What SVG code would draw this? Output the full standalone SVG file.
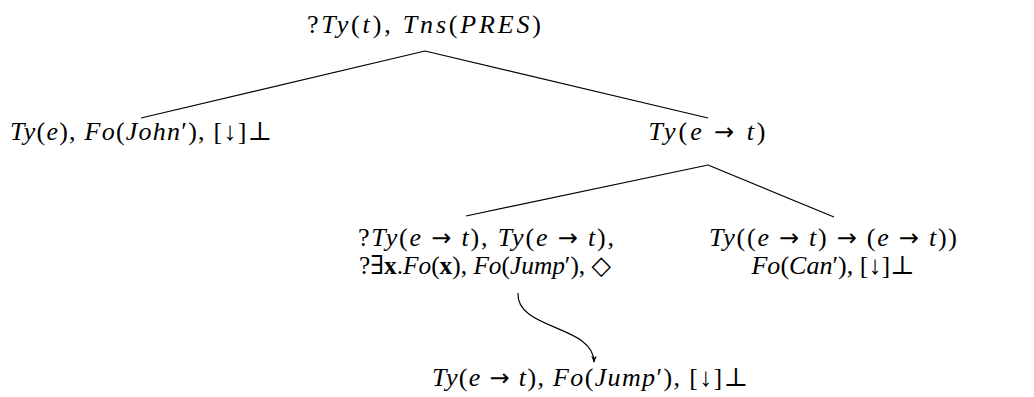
<svg xmlns="http://www.w3.org/2000/svg" width="1034" height="397" viewBox="0 0 1034 397">
<defs>
<style>
text{font-family:"Liberation Serif","DejaVu Serif",serif;font-size:26px;fill:#000;text-anchor:middle}
.i{font-style:italic}
.b{font-weight:bold}
.a{font-family:"DejaVu Sans",sans-serif;font-size:24px}
.e{stroke:#000;stroke-width:1.2;fill:none}
</style>
<marker id="ah" viewBox="0 0 10 10" refX="9" refY="5" markerWidth="7" markerHeight="7" orient="auto" markerUnits="userSpaceOnUse">
<path d="M0,1 L10,5 L0,9 L3,5 Z" fill="#000"/>
</marker>
</defs>
<rect width="1034" height="397" fill="#fff"/>
<g id="connectors">
<line class="e" x1="425" y1="51" x2="141" y2="118"/>
<line class="e" x1="425" y1="51" x2="708" y2="118"/>
<line class="e" x1="708" y1="165" x2="466" y2="216"/>
<line class="e" x1="708" y1="165" x2="834" y2="217"/>
<path class="e" d="M518,293 C516,330 594,325 594,362" marker-end="url(#ah)"/>
</g>
<g id="root">
<text x="424" y="33" textLength="234" lengthAdjust="spacing">?<tspan class="i">Ty</tspan>(<tspan class="i">t</tspan>), <tspan class="i">Tns</tspan>(<tspan class="i">PRES</tspan>)</text>
</g>
<g id="john">
<text x="141" y="140" textLength="262" lengthAdjust="spacing"><tspan class="i">Ty</tspan>(<tspan class="i">e</tspan>), <tspan class="i">Fo</tspan>(<tspan class="i">John</tspan>′), [↓]⊥</text>
</g>
<g id="pred">
<text x="707" y="140" textLength="117" lengthAdjust="spacing"><tspan class="i">Ty</tspan>(<tspan class="i">e</tspan> <tspan class="a">→</tspan> <tspan class="i">t</tspan>)</text>
</g>
<g id="jump">
<text x="486" y="246" textLength="256" lengthAdjust="spacing">?<tspan class="i">Ty</tspan>(<tspan class="i">e</tspan> <tspan class="a">→</tspan> <tspan class="i">t</tspan>), <tspan class="i">Ty</tspan>(<tspan class="i">e</tspan> <tspan class="a">→</tspan> <tspan class="i">t</tspan>),</text>
<text x="485" y="274" textLength="252" lengthAdjust="spacingAndGlyphs">?∃<tspan class="b">x</tspan>.<tspan class="i">Fo</tspan>(<tspan class="b">x</tspan>), <tspan class="i">Fo</tspan>(<tspan class="i">Jump</tspan>′), ◇</text>
</g>
<g id="can">
<text x="833" y="246" textLength="248" lengthAdjust="spacing"><tspan class="i">Ty</tspan>((<tspan class="i">e</tspan> <tspan class="a">→</tspan> <tspan class="i">t</tspan>) <tspan class="a">→</tspan> (<tspan class="i">e</tspan> <tspan class="a">→</tspan> <tspan class="i">t</tspan>))</text>
<text x="833" y="274"><tspan class="i">Fo</tspan>(<tspan class="i">Can</tspan>′), [↓]⊥</text>
</g>
<g id="result">
<text x="590" y="386" textLength="316" lengthAdjust="spacing"><tspan class="i">Ty</tspan>(<tspan class="i">e</tspan> <tspan class="a">→</tspan> <tspan class="i">t</tspan>), <tspan class="i">Fo</tspan>(<tspan class="i">Jump</tspan>′), [↓]⊥</text>
</g>
</svg>
